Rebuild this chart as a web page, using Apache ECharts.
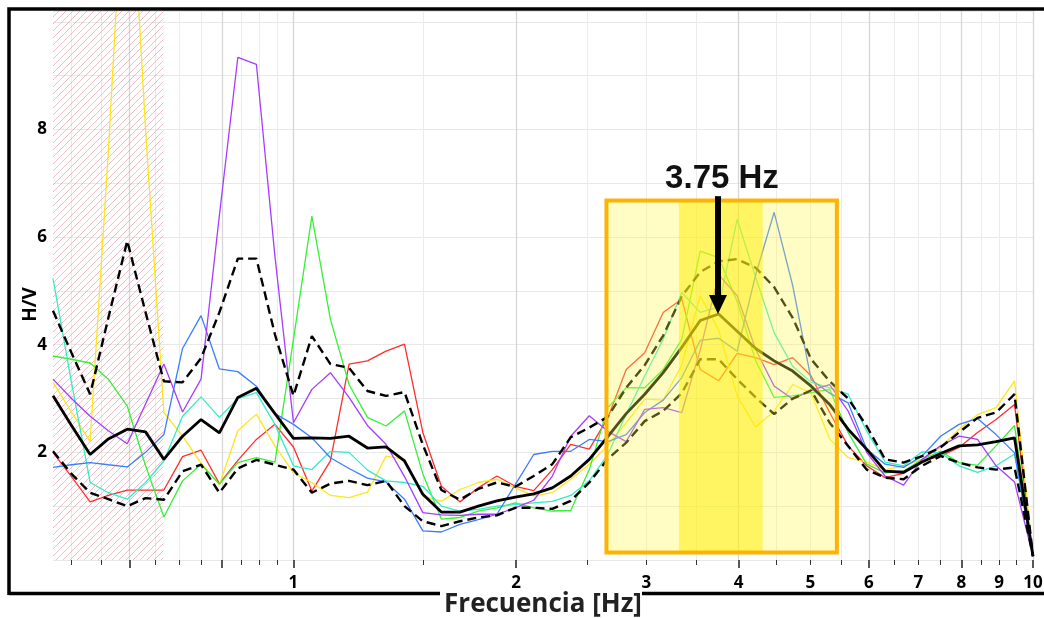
<!DOCTYPE html>
<html><head><meta charset="utf-8">
<script src="https://cdn.jsdelivr.net/npm/echarts@6/dist/echarts.min.js"></script>
<style>html,body{margin:0;padding:0;background:#fff}#c{width:1044px;height:618px}</style>
</head><body><div id="c"></div>
<script>
// Frequency samples (Hz)
const freqs = [0.473,0.501,0.531,0.562,0.596,0.631,0.668,0.708,0.750,0.794,
  0.841,0.891,0.944,1.000,1.059,1.122,1.189,1.259,1.334,1.413,
  1.496,1.585,1.679,1.778,1.884,1.995,2.113,2.239,2.371,2.512,
  2.661,2.818,2.985,3.162,3.350,3.548,3.758,3.981,4.217,4.467,
  4.732,5.012,5.309,5.623,5.957,6.310,6.683,7.079,7.499,7.943,
  8.414,8.913,9.441,10.000];

// H/V curves of individual windows
const red = [2.00,1.55,1.08,1.20,1.30,1.30,1.30,1.92,2.04,1.42, 1.85,2.24,2.52,2.10,1.28,1.84,3.64,3.70,3.88,4.01, 2.37,1.37,1.08,1.34,1.56,1.37,1.29,1.68,2.15,2.06, 2.64,3.54,3.85,4.60,4.85,3.54,3.33,3.84,3.76,3.63, 3.76,3.42,2.74,2.12,1.75,1.53,1.61,1.84,1.93,2.09, 2.37,2.61,2.89,0.07];
const yellow = [3.30,2.75,2.20,7.60,14.0,8.00,2.74,2.30,1.80,1.40, 2.40,2.71,2.12,1.62,1.44,1.20,1.16,1.26,1.93,1.87, 1.19,1.09,1.31,1.44,1.50,1.34,1.19,1.25,1.50,1.78, 2.13,2.55,2.99,2.97,3.62,4.91,4.27,3.05,2.47,2.77, 3.26,3.10,2.25,1.90,1.82,1.68,1.75,1.87,2.09,2.43, 2.70,2.83,3.33,0.07];
const green = [3.79,3.73,3.66,3.36,2.86,1.75,0.80,1.47,1.78,1.41, 1.81,1.90,1.82,4.10,6.39,4.47,3.26,2.65,2.49,2.77, 1.60,0.76,0.79,0.91,0.97,1.06,0.97,0.91,0.92,1.68, 2.83,3.20,3.20,3.54,4.10,5.74,5.62,4.80,3.70,3.02, 3.05,3.11,3.17,2.37,1.78,1.62,1.65,1.87,2.02,1.81, 1.76,2.12,2.50,0.07];
const cyan = [5.23,3.30,1.44,1.25,1.13,1.44,1.84,2.67,3.03,2.65, 3.00,3.11,2.52,1.75,1.68,2.02,2.00,1.67,1.47,1.44, 1.37,1.00,0.91,0.94,1.00,1.03,1.06,1.09,1.20,1.47, 1.96,2.71,3.42,4.10,4.97,4.60,4.70,6.33,5.25,4.22, 3.60,3.30,3.20,3.08,2.40,1.82,1.75,2.01,1.99,1.75, 1.63,1.75,1.97,0.07];
const blue = [1.72,1.77,1.81,1.77,1.73,2.00,2.33,3.93,4.54,3.55, 3.50,3.23,2.72,2.52,2.27,1.90,1.70,1.52,1.45,1.13, 0.54,0.52,0.66,0.75,0.85,1.40,1.96,2.02,2.02,2.24, 2.20,2.33,2.74,2.97,3.39,4.08,4.12,3.88,5.30,6.46, 5.10,3.35,3.10,2.92,2.06,1.78,1.72,1.93,2.30,2.52, 2.63,2.33,1.99,0.07];
const purple = [3.36,3.00,2.67,2.40,2.16,2.90,3.64,2.75,3.36,6.40, 9.34,9.21,5.64,2.55,3.17,3.48,3.02,2.50,2.15,1.55, 0.88,0.84,0.83,0.85,0.85,0.97,1.11,1.56,2.30,2.68, 2.39,2.20,2.80,2.83,2.74,3.90,5.30,4.91,3.91,3.23, 2.99,3.15,3.26,2.77,2.00,1.56,1.39,1.87,2.12,2.30, 2.24,1.75,1.45,0.07];
// Average and +/- standard deviation
const mean = [3.05,2.50,1.96,2.25,2.43,2.38,1.87,2.30,2.61,2.36, 3.02,3.19,2.72,2.26,2.27,2.26,2.30,2.08,2.10,1.84, 1.22,0.89,0.89,1.00,1.10,1.17,1.23,1.34,1.56,1.87, 2.29,2.72,3.08,3.48,3.95,4.45,4.57,4.25,3.93,3.70, 3.51,3.23,2.89,2.43,2.06,1.65,1.63,1.82,1.98,2.12, 2.14,2.20,2.27,0.07];
const upper = [4.63,3.85,3.08,4.50,5.93,4.60,3.32,3.30,3.75,4.60, 5.60,5.60,4.19,3.05,4.16,3.64,3.57,3.14,3.05,3.12, 2.14,1.30,1.12,1.32,1.44,1.36,1.56,1.78,2.28,2.46, 2.66,3.20,3.62,4.17,4.90,5.35,5.55,5.59,5.43,5.07, 4.50,3.73,3.32,3.00,2.49,1.87,1.81,1.93,2.09,2.37, 2.64,2.74,3.08,0.07];
const lower = [2.02,1.60,1.25,1.13,1.00,1.15,1.12,1.65,1.77,1.25, 1.70,1.86,1.77,1.68,1.25,1.42,1.47,1.39,1.47,1.00, 0.72,0.63,0.72,0.79,0.83,0.97,0.97,0.95,1.10,1.44, 1.88,2.18,2.58,2.77,3.10,3.73,3.73,3.36,3.02,2.71, 3.00,3.15,2.55,2.12,1.68,1.53,1.50,1.75,1.93,1.81, 1.72,1.68,1.72,0.07];

// Axis ticks / labels
const minorTicks = [0.5,0.55,0.65,0.7,0.75,0.85,0.9,0.95,1.5,2.5,3,3.5,4.5,5,5.5,6.5,7,7.5,8.5,9,9.5];
const majorTicks = [0.6,0.8,1,2,4,6,8,10];
const xLabels = [1,2,3,4,5,6,7,8,9,10];
const yLabels = [2,4,6,8];

// Annotations (data units)
const hatchRange = [0.473, 0.667, 0, 10.2];
const peakBox = [2.65, 5.43, 0.14, 6.68];
const peakBand = [3.32, 4.31, 0.14, 6.68];
const peakArrow = [3.75, 6.76, 4.57];
const peakLabel = '3.75 Hz';

const pc = document.createElement('canvas'); pc.width = 7; pc.height = 7;
const g = pc.getContext('2d');
g.strokeStyle = 'rgba(215,125,145,0.5)'; g.lineWidth = 1;
g.beginPath(); g.moveTo(-1,8); g.lineTo(8,-1); g.moveTo(-1,1); g.lineTo(1,-1); g.moveTo(6,8); g.lineTo(8,6); g.stroke();

const pts = arr => freqs.map((f,i) => [f, arr[i]]);
const thin = (name, arr, color) => ({name, type:'line', data:pts(arr), symbol:'none', z:2, silent:true,
  lineStyle:{color, width:1.3}});

function rectRender(style) {
  return (params, api) => {
    const p0 = api.coord([api.value(0), api.value(3)]);
    const p1 = api.coord([api.value(1), api.value(2)]);
    return {type:'rect', shape:{x:p0[0], y:p0[1], width:p1[0]-p0[0], height:p1[1]-p0[1]}, style};
  };
}

const chart = echarts.init(document.getElementById('c'), null, {renderer:'canvas'});
const FONT = '"Open Sans", "DejaVu Sans", sans-serif';
chart.setOption({
  animation:false,
  backgroundColor:'#fff',
  grid:{left:53, right:11, top:11, bottom:58, containLabel:false, outerBoundsMode:'none'},
  xAxis:[
    {type:'log', logBase:10, min:0.473, max:10, position:'bottom',
     axisLine:{show:false},
     axisTick:{show:true, customValues:minorTicks, length:5, lineStyle:{color:'#333', width:1}},
     axisLabel:{show:false},
     splitLine:{show:true, lineStyle:{color:'#ececec', width:1}}},
    {type:'log', logBase:10, min:0.473, max:10, position:'bottom', offset:0,
     axisLine:{show:false},
     axisTick:{show:true, customValues:majorTicks, length:8, lineStyle:{color:'#222', width:1.5}},
     axisLabel:{customValues:xLabels, margin:15, fontSize:17, fontWeight:'bold', color:'#000', fontFamily:FONT,
       formatter:v => String(Math.round(v))},
     splitLine:{show:true, lineStyle:{color:'#d6d6d6', width:1.3}},
     name:'Frecuencia [Hz]', nameLocation:'middle', nameGap:32, nameMoveOverlap:false,
     nameTextStyle:{fontSize:26, fontWeight:'bold', color:'#222', fontFamily:FONT}}
  ],
  yAxis:{type:'value', min:0, max:10.2, interval:1,
    axisLine:{show:false}, axisTick:{show:false},
    axisLabel:{formatter:v => yLabels.includes(v) ? String(v) : '', fontSize:17, fontWeight:'bold', color:'#000', margin:6, fontFamily:FONT},
    splitLine:{lineStyle:{color:'#e8e8e8', width:1}},
    name:'H/V', nameLocation:'middle', nameGap:13, nameRotate:90, nameMoveOverlap:false,
    nameTextStyle:{fontSize:19, fontWeight:'bold', color:'#000', fontFamily:FONT, padding:[0,38,0,0]}},
  graphic:[
    {type:'polyline', shape:{points:[[9,595],[9,9],[1044,9]]}, style:{stroke:'#000', lineWidth:3.5, fill:null}, z:100},
    {type:'line', shape:{x1:9,y1:593.5,x2:440,y2:593.5}, style:{stroke:'#000', lineWidth:3.5}, z:100},
    {type:'line', shape:{x1:642,y1:593.5,x2:1044,y2:593.5}, style:{stroke:'#000', lineWidth:3.5}, z:100}
  ],
  series:[
    {type:'custom', z:1, silent:true, data:[hatchRange], encode:{x:[0,1], y:[2,3]},
     renderItem: rectRender({fill:{image:pc, repeat:'repeat'}})},
    thin('red', red, '#ff2d2d'),
    thin('yellow', yellow, '#ffe51a'),
    thin('green', green, '#36f036'),
    thin('cyan', cyan, '#33ecc6'),
    thin('blue', blue, '#3a7dff'),
    thin('purple', purple, '#a53cff'),
    {name:'upper', type:'line', data:pts(upper), symbol:'none', z:3, silent:true, lineStyle:{color:'#000', width:2.4, type:[9,5]}},
    {name:'lower', type:'line', data:pts(lower), symbol:'none', z:3, silent:true, lineStyle:{color:'#000', width:2.4, type:[9,5]}},
    {name:'mean', type:'line', data:pts(mean), symbol:'none', z:4, silent:true, lineStyle:{color:'#000', width:2.8}},
    {type:'custom', z:10, silent:true, data:[peakBox], encode:{x:[0,1], y:[2,3]},
     renderItem: rectRender({fill:'rgba(255,248,70,0.32)'})},
    {type:'custom', z:11, silent:true, data:[peakBand], encode:{x:[0,1], y:[2,3]},
     renderItem: rectRender({fill:'rgba(255,236,0,0.5)'})},
    {type:'custom', z:12, silent:true, data:[peakBox], encode:{x:[0,1], y:[2,3]},
     renderItem: rectRender({fill:null, stroke:'#ffb300', lineWidth:4})},
    {type:'custom', z:13, silent:true, data:[peakArrow], encode:{x:0, y:[1,2]},
     renderItem:(params, api) => {
       const top = api.coord([api.value(0), api.value(1)]);
       const tip = api.coord([api.value(0), api.value(2)]);
       const x = tip[0];
       return {type:'group', children:[
         {type:'rect', shape:{x:x-3, y:top[1], width:6, height:tip[1]-top[1]-17}, style:{fill:'#000'}},
         {type:'polygon', shape:{points:[[x-9, tip[1]-19],[x+9, tip[1]-19],[x, tip[1]]]}, style:{fill:'#000'}},
         {type:'text', x:x+4, y:top[1]-17, style:{text:peakLabel, fill:'#111', align:'center', verticalAlign:'middle',
           font:'bold 33px "Liberation Sans", Arial, sans-serif'}}
       ]};
     }}
  ]
});
</script></body></html>
